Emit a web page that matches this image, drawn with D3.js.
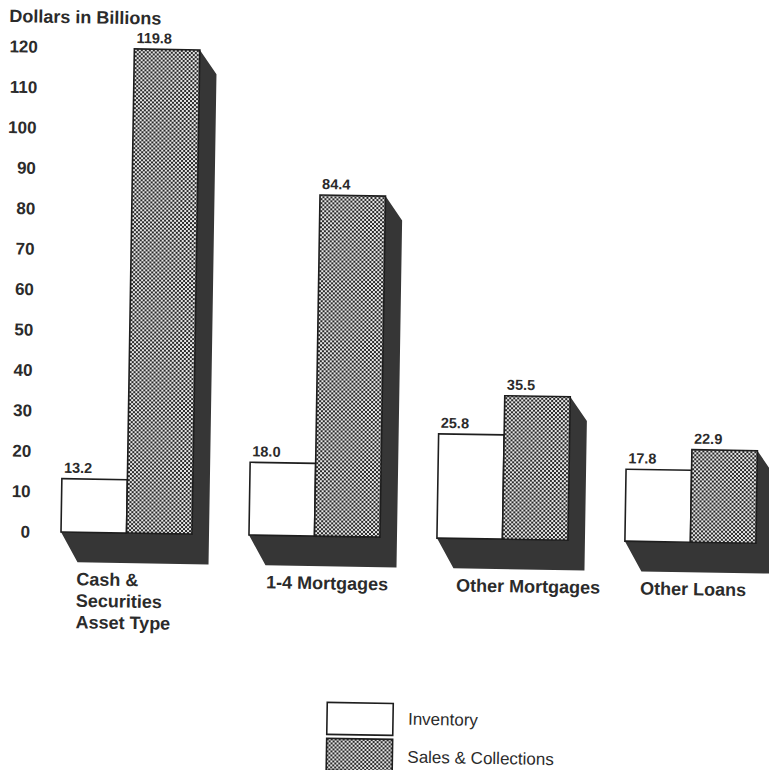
<!DOCTYPE html>
<html>
<head>
<meta charset="utf-8">
<script src="https://cdn.jsdelivr.net/npm/d3@7"></script>
<style>
  body { margin: 0; background: #fff; }
  text { font-family: "Liberation Sans", Arial, sans-serif; fill: #2b2b2b; }
</style>
</head>
<body>
<svg id="viewport"></svg>
<script>
// data
const categories = ["Cash & Securities", "1-4 Mortgages", "Other Mortgages", "Other Loans"];
const categoryLines = [["Cash &", "Securities"], ["1-4 Mortgages"], ["Other Mortgages"], ["Other Loans"]];
const series = ["Inventory", "Sales & Collections"];
const inventory = [13.2, 18.0, 25.8, 17.8];
const salesCollections = [119.8, 84.4, 35.5, 22.9];
const yTicks = [0, 10, 20, 30, 40, 50, 60, 70, 80, 90, 100, 110, 120];

// layout
const W = 769, H = 770;
const base = 532;
const depth = { dx: 17, dyTop: 24, dyFloor: 30 };
const labelX = [16, 79, 92, 69]; // offset of category label from group left
const labelAnchor = ["start", "middle", "middle", "middle"];
const ink = "#1e1e1e", shade = "#363636";

const rows = categories.map((c, i) => ({
  cat: c, lines: categoryLines[i],
  values: [
    { s: series[0], v: inventory[i] },
    { s: series[1], v: salesCollections[i] },
  ],
}));

const svg = d3.select("#viewport").attr("width", W).attr("height", H);

// checker fill used for sales bars
const pat = svg.append("defs").append("pattern")
  .attr("id", "checker").attr("patternUnits", "userSpaceOnUse")
  .attr("width", 4).attr("height", 4);
pat.append("rect").attr("width", 4).attr("height", 4).attr("fill", "#e6e6e6");
pat.append("rect").attr("width", 2).attr("height", 2).attr("fill", "#2a2a2a");
pat.append("rect").attr("x", 2).attr("y", 2).attr("width", 2).attr("height", 2).attr("fill", "#2a2a2a");

const fillFor = (s) => (s === series[0] ? "#fff" : "url(#checker)");

// the scan is tilted slightly clockwise
const g = svg.append("g").attr("transform", `rotate(0.93 61 ${base})`);

const y = d3.scaleLinear().domain([0, 120]).range([base, 47]);
const x0 = d3.scaleBand().domain(categories).range([61, 756]).paddingInner(0.303).paddingOuter(0);
const x1 = d3.scaleBand().domain(series).range([0, x0.bandwidth()]);

// title
g.append("text").attr("x", 1).attr("y", 23)
  .attr("font-size", 18).attr("font-weight", "bold")
  .text("Dollars in Billions");

// y tick labels (no axis line in the original)
g.append("g").selectAll("text").data(yTicks).join("text")
  .attr("x", 30).attr("y", (d) => y(d)).attr("dy", "0.36em")
  .attr("text-anchor", "end").attr("font-size", 17).attr("font-weight", "bold")
  .text((d) => d);

const groups = g.selectAll(".grp").data(rows).join("g")
  .attr("class", "grp")
  .attr("transform", (d) => `translate(${x0(d.cat)},0)`);

// dark extrusion behind the bars (side wall + floor)
groups.append("path")
  .attr("fill", shade)
  .attr("d", (d) => {
    const xa = 0, xb = x0.bandwidth();
    const top = y(d3.max(d.values, (e) => e.v));
    return `M ${xb} ${top} L ${xb + depth.dx} ${top + depth.dyTop} ` +
      `L ${xb + depth.dx} ${base + depth.dyFloor} L ${xa + depth.dx} ${base + depth.dyFloor} ` +
      `L ${xa} ${base} L ${xb} ${base} Z`;
  });

// front faces
groups.selectAll("rect").data((d) => d.values).join("rect")
  .attr("x", (d) => x1(d.s))
  .attr("y", (d) => y(d.v))
  .attr("width", x1.bandwidth())
  .attr("height", (d) => base - y(d.v))
  .attr("fill", (d) => fillFor(d.s))
  .attr("stroke", ink).attr("stroke-width", 1.6);

// value labels
groups.selectAll(".val").data((d) => d.values).join("text")
  .attr("class", "val")
  .attr("x", (d) => x1(d.s) + 2)
  .attr("y", (d) => y(d.v) - 6)
  .attr("font-size", 14.5).attr("font-weight", "bold")
  .text((d) => d.v.toFixed(1));

// category labels
groups.append("text")
  .attr("x", (d, i) => labelX[i])
  .attr("y", 585)
  .attr("text-anchor", (d, i) => labelAnchor[i])
  .attr("font-size", 18).attr("font-weight", "bold")
  .selectAll("tspan").data((d) => d.lines).join("tspan")
  .attr("x", function () { return d3.select(this.parentNode).attr("x"); })
  .attr("dy", (d, i) => (i ? 21.5 : 0))
  .text((d) => d);

g.append("text").attr("x", 77).attr("y", 628)
  .attr("font-size", 18).attr("font-weight", "bold")
  .text("Asset Type");

// legend
const legend = g.append("g").attr("transform", "translate(330,698)");
legend.selectAll("rect").data(series).join("rect")
  .attr("x", 0).attr("y", (d, i) => i * 36)
  .attr("width", 66).attr("height", 32)
  .attr("fill", (d) => fillFor(d))
  .attr("stroke", ink).attr("stroke-width", 1.6);
legend.selectAll("text").data(series).join("text")
  .attr("x", 81).attr("y", (d, i) => 21 + i * 38)
  .attr("font-size", 17)
  .text((d) => d);
</script>
</body>
</html>
